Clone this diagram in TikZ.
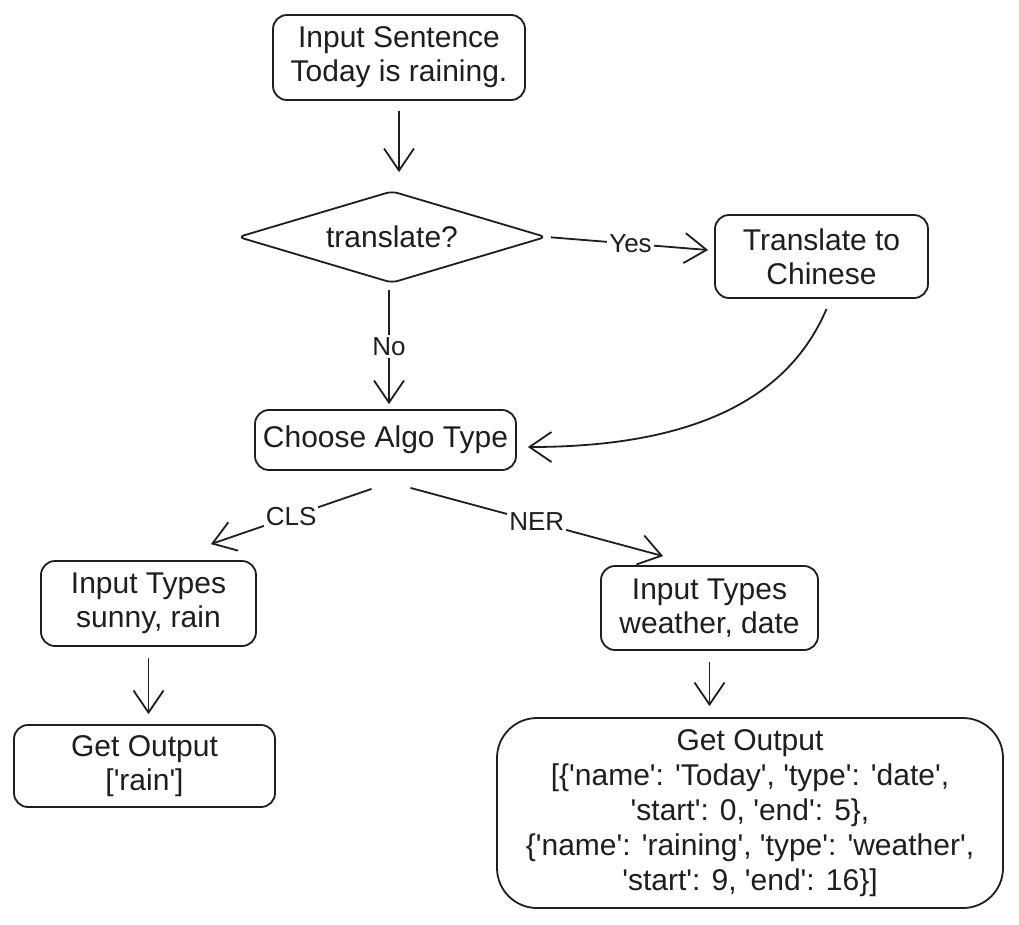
\documentclass[tikz,border=0pt]{standalone}
\usepackage{fontspec}
\setmainfont{Liberation Sans}
\usetikzlibrary{arrows.meta,shapes.geometric}
\definecolor{ink}{HTML}{1E1E1E}
\newcommand{\sq}{\textquotesingle}
\begin{document}
\begin{tikzpicture}[x=1pt,y=-1pt,
  box/.style={draw=ink,line width=1.8pt,rounded corners=14pt,align=center,inner sep=0pt,
    font=\fontsize{30}{34}\selectfont,text=ink},
  dec/.style={draw=ink,line width=1.8pt,shape=diamond,rounded corners=6pt,inner sep=0pt,
    aspect=3.35,minimum width=308pt,minimum height=92pt,font=\fontsize{30}{34}\selectfont,text=ink},
  conn/.style={draw=ink,line width=1.8pt,-{Straight Barb[length=22pt,width=30pt]}},
  lbl/.style={fill=white,text=ink,inner sep=2pt,font=\fontsize{26}{30}\selectfont}]
\useasboundingbox[fill=white] (0,0) rectangle (1019,924);

\node[box,minimum width=252pt,minimum height=85pt] (in) at (399,57.5) {Input Sentence\\Today is raining.};
\node[dec] (dia) at (392,237) {translate?};
\node[box,minimum width=213pt,minimum height=83pt] (tr) at (821.5,256.5) {Translate to\\Chinese};
\node[box,minimum width=261pt,minimum height=60pt] (ch) at (385.5,440) {Choose Algo Type};
\node[box,minimum width=215pt,minimum height=85pt] (ct) at (148.5,603.5) {Input Types\\sunny, rain};
\node[box,minimum width=261pt,minimum height=82pt] (co) at (144.5,766) {Get Output\\{}[\sq rain\sq]};
\node[box,minimum width=217pt,minimum height=84pt] (nt) at (709.5,608) {Input Types\\weather, date};
\node[box,rounded corners=40pt,minimum width=506pt,minimum height=190pt,font=\fontsize{30}{35}\selectfont] (bo) at (750,813)
  {Get Output\\{}[\{\sq name\sq: \sq Today\sq, \sq type\sq: \sq date\sq,\\
   \sq start\sq: 0, \sq end\sq: 5\},\\
   \{\sq name\sq: \sq raining\sq, \sq type\sq: \sq weather\sq,\\
   \sq start\sq: 9, \sq end\sq: 16\}]};

\draw[conn,shorten <=10pt,shorten >=18pt] (in.south) -- (in.south |- dia.north);
\draw[conn,shorten <=4pt,shorten >=6pt] (dia.east) -- node[lbl] {Yes} ([yshift=6pt]tr.west);
\draw[conn,shorten <=6pt,shorten >=5pt] ([xshift=-3pt]dia.south) -- node[lbl] {No} ([xshift=3.5pt]ch.north);
\draw[conn] ([xshift=5pt,yshift=-10pt]tr.south) .. controls (790,395) and (700,447) .. ([xshift=11pt,yshift=-7pt]ch.east);
\draw[conn] ([xshift=-14pt,yshift=-18pt]ch.south) -- node[lbl] {CLS} ([xshift=-46pt,yshift=16pt]ct.north east);
\draw[conn] ([xshift=25pt,yshift=-17pt]ch.south) -- node[lbl] {NER} ([xshift=63pt,yshift=9pt]nt.north west);
\draw[conn,shorten <=11pt,shorten >=10pt] (ct.south) -- (ct.south |- co.north);
\draw[conn,shorten <=11pt,shorten >=11pt] (nt.south) -- (nt.south |- bo.north);
\end{tikzpicture}
\end{document}
